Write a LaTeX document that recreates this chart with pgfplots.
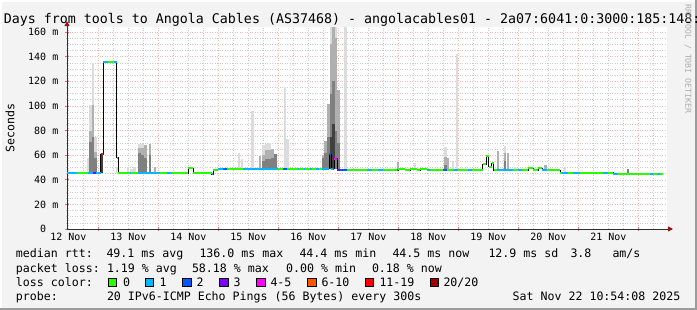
\documentclass[border=0pt]{standalone}
\usepackage{pgfplots}
\usepackage{pgfplotstable}
\pgfplotsset{compat=1.18}
\usepackage{fontspec}
\setmainfont{DejaVu Sans Mono}
\setmonofont{DejaVu Sans Mono}
\usetikzlibrary{arrows.meta}

\definecolor{bgc}{HTML}{F3F3F3}
\definecolor{framedark}{HTML}{9C9C9C}
\definecolor{gridmaj}{HTML}{F4B8B8}
\definecolor{gridmin}{HTML}{CCCCCC}
\definecolor{tickmaj}{HTML}{E07070}
\definecolor{axisc}{HTML}{303030}
\definecolor{arrowc}{HTML}{9C1010}
\definecolor{lcA}{HTML}{26FF00}
\definecolor{lcB}{HTML}{00B8FF}
\definecolor{lcC}{HTML}{0059FF}
\definecolor{lcD}{HTML}{7E00FF}
\definecolor{lcE}{HTML}{FF00FF}
\definecolor{lcF}{HTML}{FF5500}
\definecolor{lcG}{HTML}{FF0000}
\definecolor{lcH}{HTML}{A10000}
\definecolor{smA}{HTML}{DCDCDC}
\definecolor{smB}{HTML}{B0B0B0}
\definecolor{smC}{HTML}{808080}
\definecolor{smD}{HTML}{404040}

\newcommand\fA{\fontsize{11.6bp}{13bp}\selectfont}
\newcommand\fT{\fontsize{13.3bp}{15bp}\selectfont}
\newcommand\fS{\fontsize{10bp}{11bp}\selectfont}

% median rtt (days since 12 Nov 00:00, ms)
\pgfplotstableread{
x y
0.478 45.5
1.040 61
1.083 136
1.307 58
1.333 45.5
2.495 49.5
2.578 45.5
2.890 44.5
2.916 48.2
2.995 49
4.845 61
4.878 49
4.928 57
4.978 48
5.995 48.8
6.112 48
6.195 48.8
6.312 48
6.362 48.8
6.478 48
7.406 52.5
7.462 59
7.507 50.6
7.557 53.4
7.590 48
8.162 49.6
8.245 48
8.328 49.6
8.395 48
8.695 45.7
9.583 44.8
10.416 44.8
}\median

% loss colour segments: x1 x2 y
\pgfplotstableread{
x1 x2 y
0.478 0.645 45.5
0.828 0.912 45.5
0.962 1.040 45.5
1.083 1.154 136
1.254 1.307 136
1.307 1.333 58
1.528 1.545 45.5
1.662 2.028 45.5
2.145 2.228 45.5
2.890 2.916 44.5
2.995 3.078 49
3.412 3.995 49
4.325 4.350 49
4.425 4.450 49
4.525 4.555 49
4.625 4.675 49
4.725 4.845 49
4.878 4.903 49
5.478 5.562 48
5.662 5.745 48
6.478 6.528 48
6.912 6.995 48
7.162 7.228 48
7.645 7.912 48
7.995 8.062 48
8.395 8.478 48
8.723 8.828 45.7
8.912 9.028 45.7
9.412 9.495 45.7
9.583 9.662 44.8
10.195 10.245 44.8
10.312 10.362 44.8
}\lossB
\pgfplotstableread{
x1 x2 y
3.078 3.145 49
4.078 4.145 49
4.845 4.878 61
5.028 5.145 48
5.978 5.995 48
6.745 6.812 48
}\lossC
\pgfplotstableread{
x1 x2 y
0.912 0.962 45.5
4.903 4.928 49
4.978 5.028 48
}\lossD
\pgfplotstableread{
x1 x2 y
4.928 4.978 57
}\lossE
\pgfplotstableread{
x1 x2 y
1.040 1.083 61
}\lossG

% smoke layers: x lo hi
\pgfplotstableread{
x lo hi
0.828 45 57.7
0.870 45 100.7
0.912 45 134.6
0.953 45 75
1.312 45.5 50.6
1.495 45 50
1.553 45 48.5
1.603 45 50.6
1.687 45 68.8
1.737 45 68.8
3.345 49 61.5
3.395 49 57
3.570 49 95.9
3.753 49 68.2
3.803 49 69
3.853 49 69.6
4.112 49 115
4.153 49 73
4.878 49 170
4.920 49 170
4.962 49 170
5.120 48 170
6.278 48 53.4
6.787 48 66.9
6.912 48 55.2
6.978 48 142
7.778 48 67.4
7.945 48 50
8.778 45.7 50.6
}\smokeA
\pgfplotstableread{
x lo hi
0.870 45 80
0.912 45 100.7
0.953 45 62.8
1.687 45 66
1.737 45 66
1.787 45 68
1.862 45 68.8
1.945 45 50.6
3.695 49 59.3
3.753 49 60
3.803 49 64
3.853 49 64
3.903 49 65
4.745 49 60
4.787 49 71.5
4.837 49 101.5
4.878 49 150
4.920 49 170
4.962 49 155
5.003 49 113
5.995 48 54.7
6.787 48 58.2
6.828 48 58
7.662 48 63.4
7.778 48 61.5
7.828 48 61.5
8.453 48 52
}\smokeB
\pgfplotstableread{
x lo hi
0.870 45 71
0.912 45 75
0.953 45 58
1.687 45 62
1.737 45 60
1.787 45 58
1.862 45 60
3.753 49 55
3.803 49 57
3.853 49 57
3.903 49 58
3.953 49 61
4.745 49 58
4.787 49 62
4.837 49 75
4.878 49 110
4.920 49 120
4.962 49 80
5.003 49 70
6.787 48 52
7.778 48 55
9.828 44.8 48.7
}\smokeC
\pgfplotstableread{
x lo hi
1.062 45.5 61
4.878 49 75
4.920 49 85
}\smokeD

\pgfplotsset{
  smoke/.style={draw=none, mark=none, forget plot,
    error bars/.cd, y dir=plus, y explicit, error mark=none,
    error bar style={draw=#1, line width=2.7bp}},
  lossseg/.style={draw=none, mark=none, forget plot,
    error bars/.cd, x dir=plus, x explicit, error mark=none,
    error bar style={draw=#1, line width=2bp}},
}

\begin{document}
\begin{tikzpicture}
\useasboundingbox (0,0) rectangle (697bp,310bp);
\clip (0,0) rectangle (697bp,310bp);
\fill[bgc] (0,0) rectangle (697bp,310bp);
\draw[white, line width=2bp] (1bp,0) -- (1bp,309bp) -- (697bp,309bp);
\draw[framedark, line width=2bp] (0,1bp) -- (696bp,1bp) -- (696bp,310bp);

\begin{axis}[
  at={(67bp,81bp)}, anchor=south west,
  scale only axis, width=600bp, height=201.9bp,
  xmin=0.478, xmax=10.478, ymin=0, ymax=164,
  axis background/.style={fill=white},
  axis x line=bottom, axis y line=left,
  axis line style={draw=axisc, line width=0.9bp, shorten >=-6bp,
    -{Triangle[length=5bp,width=5bp,color=arrowc]}},
  every outer x axis line/.append style={-{Triangle[length=5bp,width=5bp,color=arrowc]}},
  every outer y axis line/.append style={-{Triangle[length=5bp,width=5bp,color=arrowc]}},
  grid=both,
  major grid style={draw=gridmaj, dash pattern=on 1bp off 1.5bp, line width=0.5bp},
  minor grid style={draw=gridmin, dash pattern=on 1bp off 1.5bp, line width=0.5bp},
  xtick={1,2,3,4,5,6,7,8,9,10}, xticklabels={},
  minor xtick={0.5,0.75,1.25,1.5,1.75,2.25,2.5,2.75,3.25,3.5,3.75,4.25,4.5,4.75,5.25,5.5,5.75,6.25,6.5,6.75,7.25,7.5,7.75,8.25,8.5,8.75,9.25,9.5,9.75,10.25},
  extra x ticks={0.5,1.5,2.5,3.5,4.5,5.5,6.5,7.5,8.5,9.5},
  extra x tick labels={12 Nov,13 Nov,14 Nov,15 Nov,16 Nov,17 Nov,18 Nov,19 Nov,20 Nov,21 Nov},
  extra x tick style={grid=none, major tick length=0pt},
  ytick={0,20,40,60,80,100,120,140,160},
  yticklabels={0\hphantom{\ m},20 m,40 m,60 m,80 m,100 m,120 m,140 m,160 m},
  minor y tick num=3,
  tick align=center,
  major tick length=4bp, minor tick length=2bp,
  major tick style={draw=tickmaj, line width=0.6bp},
  minor tick style={draw=gridmin, line width=0.6bp},
  xticklabel style={font=\fS, inner sep=0pt, anchor=north, yshift=-4bp},
  yticklabel style={font=\fS, inner sep=0pt, anchor=east, xshift=-6.5bp},
]
\addplot[smoke=smA] table[x=x, y=lo, y error plus expr=\thisrow{hi}-\thisrow{lo}] {\smokeA};
\addplot[smoke=smB] table[x=x, y=lo, y error plus expr=\thisrow{hi}-\thisrow{lo}] {\smokeB};
\addplot[smoke=smC] table[x=x, y=lo, y error plus expr=\thisrow{hi}-\thisrow{lo}] {\smokeC};
\addplot[smoke=smD] table[x=x, y=lo, y error plus expr=\thisrow{hi}-\thisrow{lo}] {\smokeD};
\addplot[const plot, black, line width=0.8bp, mark=none] table[x=x, y=y] {\median};
\addplot[jump mark left, lcA, line width=2bp, mark=none] table[x=x, y=y] {\median};
\addplot[lossseg=lcB] table[x=x1, y=y, x error plus expr=\thisrow{x2}-\thisrow{x1}] {\lossB};
\addplot[lossseg=lcC] table[x=x1, y=y, x error plus expr=\thisrow{x2}-\thisrow{x1}] {\lossC};
\addplot[lossseg=lcD] table[x=x1, y=y, x error plus expr=\thisrow{x2}-\thisrow{x1}] {\lossD};
\addplot[lossseg=lcE] table[x=x1, y=y, x error plus expr=\thisrow{x2}-\thisrow{x1}] {\lossE};
\addplot[lossseg=lcG] table[x=x1, y=y, x error plus expr=\thisrow{x2}-\thisrow{x1}] {\lossG};
\end{axis}

% title and side texts
\node[anchor=base west, inner sep=0pt, font=\fT] at (3.6bp,286bp) {Days from tools to Angola Cables (AS37468) - angolacables01 - 2a07:6041:0:3000:185:148:};
\node[rotate=90, inner sep=0pt, font=\fA] at (10bp,182bp) {Seconds};
\node[rotate=-90, inner sep=0pt, font=\fontsize{8.2bp}{9bp}\selectfont, text=black!32] at (688bp,251bp) {RRDTOOL / TOBI OETIKER};

% legend lines
\begin{scope}[every node/.style={anchor=base west, inner sep=0pt, font=\fA}]
\node at (15.8bp,52bp) {median rtt:};
\node at (106.3bp,52bp) {49.1 ms avg};
\node at (199.3bp,52bp) {136.0 ms max};
\node at (299.3bp,52bp) {44.4 ms min};
\node at (392.3bp,52bp) {44.5 ms now};
\node at (488.3bp,52bp) {12.9 ms sd};
\node at (570.3bp,52bp) {3.8};
\node at (612.3bp,52bp) {am/s};
\node at (15.8bp,38bp) {packet loss:};
\node at (106.8bp,38bp) {1.19 \% avg};
\node at (191.8bp,38bp) {58.18 \% max};
\node at (286bp,38bp) {0.00 \% min};
\node at (371.8bp,38bp) {0.18 \% now};
\node at (15.8bp,24bp) {loss color:};
\node at (122.8bp,24bp) {0};
\node at (159.3bp,24bp) {1};
\node at (196.3bp,24bp) {2};
\node at (233.3bp,24bp) {3};
\node at (270.3bp,24bp) {4-5};
\node at (321.3bp,24bp) {6-10};
\node at (379.3bp,24bp) {11-19};
\node at (443.3bp,24bp) {20/20};
\node at (15.8bp,10bp) {probe:};
\node at (106.8bp,10bp) {20 IPv6-ICMP Echo Pings (56 Bytes) every 300s};
\node at (512.5bp,10bp) {Sat Nov 22 10:54:08 2025};
\end{scope}
\begin{scope}[draw=black, line width=0.6bp]
\filldraw[fill=lcA] (108bp,23.5bp) rectangle (116.5bp,32bp);
\filldraw[fill=lcB] (145bp,23.5bp) rectangle (153.5bp,32bp);
\filldraw[fill=lcC] (182.5bp,23.5bp) rectangle (191bp,32bp);
\filldraw[fill=lcD] (219.5bp,23.5bp) rectangle (228bp,32bp);
\filldraw[fill=lcE] (256.5bp,23.5bp) rectangle (265bp,32bp);
\filldraw[fill=lcF] (307.5bp,23.5bp) rectangle (316bp,32bp);
\filldraw[fill=lcG] (365bp,23.5bp) rectangle (373.5bp,32bp);
\filldraw[fill=lcH] (430bp,23.5bp) rectangle (438.5bp,32bp);
\end{scope}
\end{tikzpicture}
\end{document}
